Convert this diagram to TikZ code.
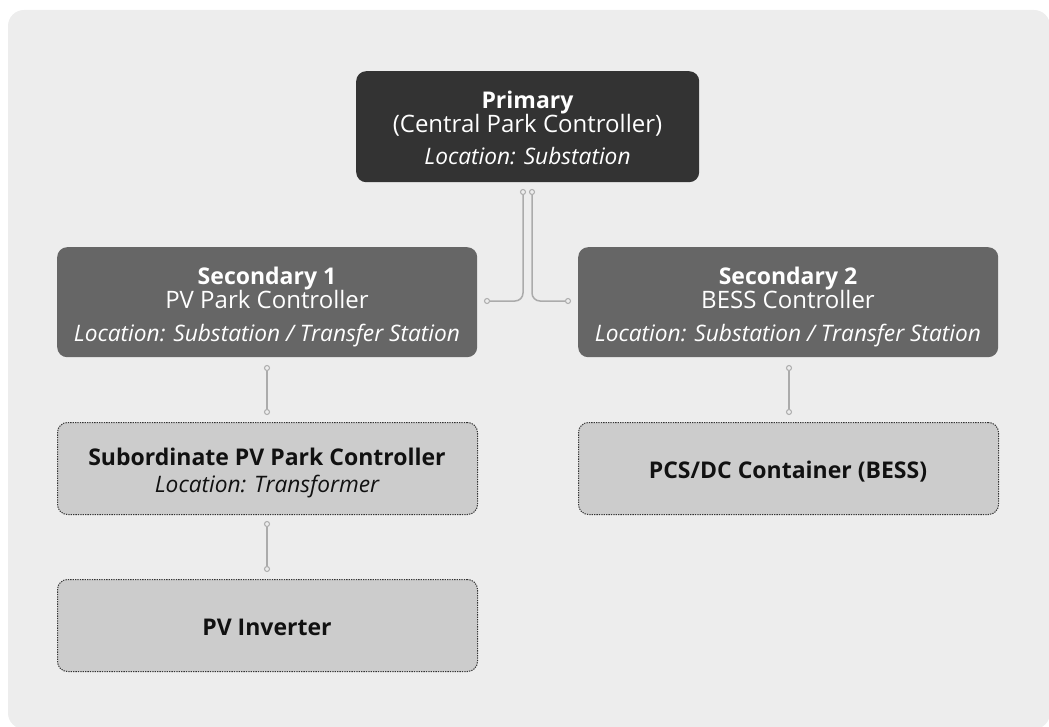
\documentclass[tikz,border=0pt]{standalone}
\usepackage{fontspec}
\setmainfont{Open Sans}
\definecolor{bgc}{HTML}{EDEDED}
\definecolor{primc}{HTML}{333333}
\definecolor{secc}{HTML}{666666}
\definecolor{terc}{HTML}{CCCCCC}
\definecolor{connc}{HTML}{ABABAB}
\definecolor{txtd}{HTML}{111111}
\tikzset{
  box/.style={rectangle, rounded corners=10pt, inner sep=0pt, anchor=north west},
  primbox/.style={box, fill=primc},
  secbox/.style={box, fill=secc},
  terbox/.style={box, fill=terc, draw=primc, line width=1pt, dash pattern=on 1.3pt off 1.1pt},
  lbl/.style={anchor=base, inner sep=0pt},
  wt/.style={lbl, text=white},
  bt/.style={lbl, text=txtd},
  conn/.style={draw=connc, line width=1.5pt},
  dot/.style={circle, inner sep=0pt, minimum size=5pt, draw=connc, fill=bgc, line width=1pt},
}
\newcommand{\ttl}{\fontsize{23}{26}\selectfont\bfseries}
\newcommand{\bdy}{\fontsize{24}{26}\selectfont}
\newcommand{\loc}{\fontsize{22.7}{26}\selectfont\itshape}
\begin{document}
\begin{tikzpicture}[x=1pt,y=-1pt]
\useasboundingbox (0,0) rectangle (1049,727);
\begin{scope}
\clip (0,0) rectangle (1049,727);
\fill[bgc, rounded corners=16pt] (8,10) rectangle (1050,729);
\end{scope}
% boxes
\node[primbox, minimum width=343pt, minimum height=111pt] (prim) at (356,71) {};
\node[secbox, minimum width=420pt, minimum height=110pt] (sec1) at (57,247) {};
\node[secbox, minimum width=420pt, minimum height=110pt] (sec2) at (578,247) {};
\node[terbox, minimum width=420pt, minimum height=92pt] (sub) at (57,422) {};
\node[terbox, minimum width=420pt, minimum height=92pt] (pcs) at (578,422) {};
\node[terbox, minimum width=420pt, minimum height=92pt] (inv) at (57,579) {};
% texts
\node[wt] (primA) at (527.5,108.5) {\ttl Primary};
\node[wt] (primB) at (527.5,133) {\bdy (Central Park Controller)};
\node[wt] (primC) at (527.5,165) {\loc Location: Substation};
\node[wt] (s1A) at (267,284) {\ttl Secondary 1};
\node[wt] (s1B) at (267,308.5) {\bdy PV Park Controller};
\node[wt] (s1C) at (267,341) {\loc Location: Substation / Transfer Station};
\node[wt] (s2A) at (788,284) {\ttl Secondary 2};
\node[wt] (s2B) at (788,308.5) {\bdy BESS Controller};
\node[wt] (s2C) at (788,341) {\loc Location: Substation / Transfer Station};
\node[bt] (subA) at (267,465) {\ttl Subordinate PV Park Controller};
\node[bt] (subB) at (267,492) {\loc Location: Transformer};
\node[bt] (pcsA) at (788,478.5) {\ttl PCS/DC Container (BESS)};
\node[bt] (invA) at (267,635) {\ttl PV Inverter};
% connector ends
\node[dot] (d1) at (523,192) {};
\node[dot] (d2) at (487,301) {};
\node[dot] (d3) at (532,192) {};
\node[dot] (d4) at (568,301) {};
\node[dot] (d5) at (267,368) {};
\node[dot] (d6) at (267,412) {};
\node[dot] (d7) at (267,524) {};
\node[dot] (d8) at (267,569) {};
\node[dot] (d9) at (789,368) {};
\node[dot] (d10) at (789,412) {};
% connectors
\draw[conn, rounded corners=8pt] (d1.south) |- (d2.east);
\draw[conn, rounded corners=8pt] (d3.south) |- (d4.west);
\draw[conn] (d5.south) -- (d6.north);
\draw[conn] (d7.south) -- (d8.north);
\draw[conn] (d9.south) -- (d10.north);
\end{tikzpicture}
\end{document}
